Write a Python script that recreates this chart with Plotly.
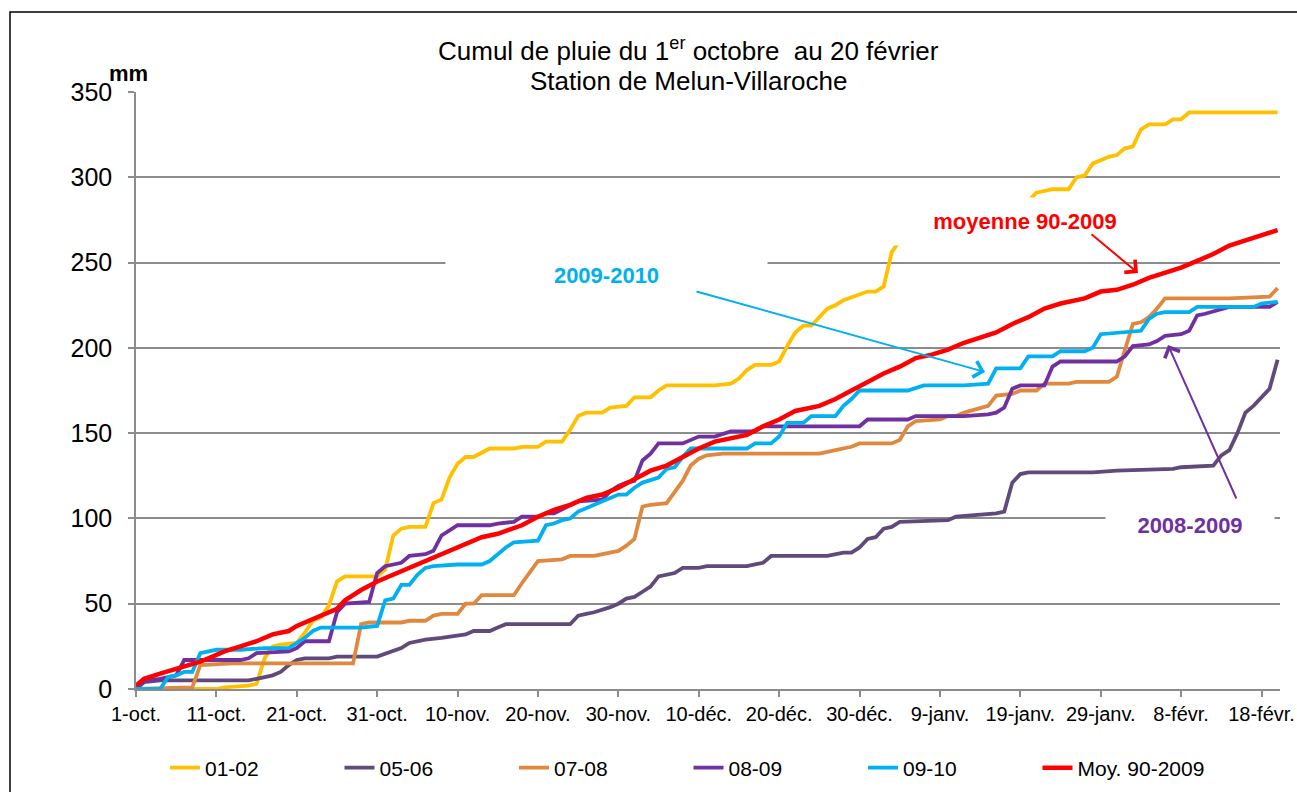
import plotly.graph_objects as go

# ---------------- data (day index from 1-oct) ----------------
tick_days = [0, 10, 20, 30, 40, 50, 60, 70, 80, 90, 100, 110, 120, 130, 140]
tick_labels = ["1-oct.", "11-oct.", "21-oct.", "31-oct.", "10-nov.", "20-nov.", "30-nov.",
               "10-déc.", "20-déc.", "30-déc.", "9-janv.", "19-janv.", "29-janv.", "8-févr.", "18-févr."]

d_0102 = [0, 10, 11, 14, 15, 16, 17, 18, 20, 21, 22, 23, 24, 25, 26, 30, 31, 32, 33, 34, 36, 37, 38, 39, 40, 41, 42, 44, 47, 48, 50, 51, 53, 54, 55, 56, 58, 59, 61, 62, 64, 65, 66, 72, 74, 75, 76, 77, 79, 80, 81, 82, 83, 84, 86, 87, 88, 90, 91, 92, 93, 94, 95, 100, 106, 111, 112, 114, 116, 117, 118, 119, 121, 122, 123, 124, 125, 126, 128, 129, 130, 131, 142]
v_0102 = [0, 0, 1, 2, 3, 18, 25, 26, 27, 33, 40, 42, 49, 63, 66, 66, 70, 90, 94, 95, 95, 109, 111, 124, 132, 136, 136, 141, 141, 142, 142, 145, 145, 152, 160, 162, 162, 165, 166, 171, 171, 175, 178, 178, 179, 182, 187, 190, 190, 192, 201, 209, 213, 213, 223, 225, 228, 231, 233, 233, 236, 256, 263, 268, 278, 286, 291, 293, 293, 300, 301, 308, 312, 313, 317, 318, 328, 331, 331, 334, 334, 338, 338]

d_0506 = [0, 1, 3, 14, 15, 17, 18, 19, 20, 21, 24, 25, 30, 32, 33, 34, 35, 36, 38, 40, 41, 42, 44, 45, 46, 54, 55, 56, 57, 59, 60, 61, 62, 63, 64, 65, 66, 67, 68, 70, 71, 76, 77, 78, 79, 86, 88, 89, 90, 91, 92, 93, 94, 95, 101, 102, 107, 108, 109, 110, 111, 119, 122, 129, 130, 134, 135, 136, 137, 138, 139, 140, 141, 142]
v_0506 = [0, 4, 5, 5, 6, 8, 10, 14, 17, 18, 18, 19, 19, 22, 24, 27, 28, 29, 30, 31, 32, 34, 34, 36, 38, 38, 43, 44, 45, 48, 50, 53, 54, 57, 60, 66, 67, 68, 71, 71, 72, 72, 73, 74, 78, 78, 80, 80, 83, 88, 89, 94, 95, 98, 99, 101, 103, 104, 121, 126, 127, 127, 128, 129, 130, 131, 137, 140, 150, 162, 166, 171, 176, 193]

d_0708 = [0, 7, 8, 12, 16, 27, 28, 29, 33, 34, 36, 37, 38, 40, 41, 42, 43, 47, 48, 49, 50, 53, 54, 57, 58, 60, 61, 62, 63, 64, 66, 67, 68, 69, 70, 71, 73, 80, 85, 87, 89, 90, 94, 95, 96, 97, 100, 101, 102, 103, 105, 106, 107, 109, 110, 112, 113, 116, 117, 121, 122, 123, 124, 125, 126, 127, 128, 136, 141, 142]
v_0708 = [0, 1, 14, 15, 15, 15, 38, 39, 39, 40, 40, 43, 44, 44, 50, 50, 55, 55, 62, 69, 75, 76, 78, 78, 79, 81, 84, 88, 107, 108, 109, 116, 122, 131, 135, 137, 138, 138, 138, 140, 142, 144, 144, 146, 154, 157, 158, 160, 160, 162, 165, 166, 172, 173, 175, 175, 179, 179, 180, 180, 183, 198, 214, 215, 218, 223, 229, 229, 230, 235]

d_0809 = [0, 1, 3, 5, 6, 13, 14, 15, 19, 20, 21, 24, 25, 26, 29, 30, 31, 33, 34, 36, 37, 38, 39, 40, 44, 45, 47, 48, 50, 51, 52, 54, 55, 58, 59, 60, 61, 62, 63, 64, 65, 68, 69, 70, 72, 74, 77, 78, 90, 91, 96, 97, 103, 106, 107, 108, 109, 110, 113, 114, 115, 122, 123, 124, 126, 127, 128, 130, 131, 132, 133, 135, 136, 141, 142]
v_0809 = [0, 5, 6, 8, 17, 17, 18, 21, 22, 24, 28, 28, 45, 50, 51, 68, 72, 74, 78, 79, 81, 90, 93, 96, 96, 97, 98, 101, 101, 103, 103, 108, 110, 111, 116, 119, 121, 122, 134, 138, 144, 144, 146, 148, 148, 151, 151, 154, 154, 158, 158, 160, 160, 161, 162, 165, 176, 178, 178, 189, 192, 192, 195, 201, 202, 204, 207, 208, 210, 219, 220, 223, 224, 224, 227]

d_0910 = [0, 3, 4, 5, 6, 7, 8, 10, 13, 16, 19, 21, 22, 23, 28, 30, 31, 32, 33, 34, 35, 36, 37, 40, 43, 44, 46, 47, 50, 51, 52, 53, 54, 55, 57, 59, 60, 61, 62, 63, 65, 66, 67, 68, 69, 76, 77, 79, 80, 81, 83, 84, 87, 88, 89, 90, 96, 98, 103, 106, 107, 110, 111, 114, 115, 118, 119, 120, 125, 126, 127, 128, 131, 132, 139, 140, 142]
v_0910 = [0, 0, 7, 8, 10, 10, 21, 23, 23, 24, 24, 30, 34, 36, 36, 37, 52, 53, 61, 61, 67, 71, 72, 73, 73, 75, 83, 86, 87, 96, 97, 99, 100, 104, 108, 112, 114, 114, 118, 121, 124, 129, 130, 136, 141, 141, 144, 144, 148, 156, 156, 160, 160, 166, 170, 175, 175, 178, 178, 179, 188, 188, 195, 195, 198, 198, 200, 208, 210, 217, 220, 221, 221, 224, 224, 226, 227]

d_moy = [0, 1, 3, 5, 8, 10, 11, 13, 15, 17, 19, 20, 23, 25, 26, 28, 30, 33, 35, 37, 39, 41, 43, 45, 48, 50, 52, 54, 56, 58, 60, 62, 64, 66, 68, 70, 72, 74, 76, 78, 80, 82, 85, 87, 89, 91, 93, 95, 97, 99, 101, 103, 105, 107, 109, 111, 113, 115, 118, 120, 122, 124, 126, 128, 130, 132, 134, 136, 138, 140, 142]
v_moy = [2, 6, 9, 12, 16, 20, 22, 25, 28, 32, 34, 37, 43, 47, 52, 58, 63, 69, 73, 77, 81, 85, 89, 91, 96, 101, 105, 108, 112, 114, 118, 123, 128, 131, 136, 141, 145, 147, 149, 154, 158, 163, 166, 170, 175, 180, 185, 189, 194, 196, 199, 203, 206, 209, 214, 218, 223, 226, 229, 233, 234, 237, 241, 244, 247, 251, 255, 260, 263, 266, 269]

series = [
    ("01-02", d_0102, v_0102, "#FFC000", 3.8),
    ("05-06", d_0506, v_0506, "#604A7B", 3.8),
    ("07-08", d_0708, v_0708, "#E0883E", 3.8),
    ("08-09", d_0809, v_0809, "#7030A0", 3.8),
    ("09-10", d_0910, v_0910, "#00B0F0", 3.8),
    ("Moy. 90-2009", d_moy, v_moy, "#FF0000", 4.5),
]

FONT = "Liberation Sans, Arial, sans-serif"
GRID = "#8C8C8C"

fig = go.Figure()
for name, d, v, col, w in series:
    fig.add_trace(go.Scatter(x=d, y=v, mode="lines", name=name,
                             line=dict(color=col, width=w)))

# plot area in pixels: x 136..1280, y 92..689
PL, PR, PT, PB = 136, 1280, 92, 689
XMAX = 142.3

def px_x(p):
    return (p - PL) / (PR - PL) * XMAX

def px_y(p):
    return (PB - p) / (PB - PT) * 350

def pap_x(p):
    return (p - PL) / (PR - PL)

def pap_y(p):
    return (PB - p) / (PB - PT)

annotations = []
# white label boxes (cover the lines / gridlines like the original text boxes)
annotations.append(dict(x=px_x(606), y=px_y(275), xref="x", yref="y", text="<b>2009-2010</b>",
                        showarrow=False, bgcolor="white", width=319, height=50,
                        xanchor="center", yanchor="middle",
                        font=dict(family=FONT, size=22, color="#00B0F0")))
annotations.append(dict(x=px_x(1025), y=px_y(221.5), xref="x", yref="y", text="<b>moyenne 90-2009</b>",
                        showarrow=False, bgcolor="white", width=264, height=45,
                        xanchor="center", yanchor="middle",
                        font=dict(family=FONT, size=22, color="#FF0000")))
annotations.append(dict(x=px_x(1190), y=px_y(525), xref="x", yref="y", text="<b>2008-2009</b>",
                        showarrow=False, bgcolor="white", width=166, height=46,
                        xanchor="center", yanchor="middle",
                        font=dict(family=FONT, size=22, color="#7030A0")))
# arrows
for (tx, ty, hx, hy, col) in [(695, 291, 985, 372, "#00B0F0"),
                              (1090, 233, 1138, 273, "#FF0000"),
                              (1237, 500, 1168, 345, "#7030A0")]:
    annotations.append(dict(x=px_x(hx), y=px_y(hy), ax=px_x(tx), ay=px_y(ty),
                            xref="x", yref="y", axref="x", ayref="y", text="",
                            showarrow=True, arrowhead=4, arrowsize=1.6, arrowwidth=2,
                            arrowcolor=col, standoff=0))
# titles
annotations.append(dict(x=pap_x(688), y=pap_y(50), xref="paper", yref="paper",
                        xanchor="center", yanchor="middle",
                        text="Cumul de pluie du 1<sup>er</sup> octobre  au 20 février",
                        showarrow=False, font=dict(family=FONT, size=26, color="black")))
annotations.append(dict(x=pap_x(688), y=pap_y(81), xref="paper", yref="paper",
                        xanchor="center", yanchor="middle",
                        text="Station de Melun-Villaroche",
                        showarrow=False, font=dict(family=FONT, size=26, color="black")))
annotations.append(dict(x=pap_x(128), y=pap_y(73), xref="paper", yref="paper",
                        xanchor="center", yanchor="middle",
                        text="<b>mm</b>", showarrow=False,
                        font=dict(family=FONT, size=22, color="black")))

fig.update_layout(
    width=1297, height=792,
    margin=dict(l=PL, r=1297 - PR, t=PT, b=792 - PB, autoexpand=False),
    paper_bgcolor="white", plot_bgcolor="white",
    font=dict(family=FONT, color="black"),
    showlegend=True,
    legend=dict(orientation="h", x=pap_x(165), xanchor="left", y=pap_y(768), yanchor="middle",
                font=dict(family=FONT, size=21, color="black"),
                entrywidth=129.5, entrywidthmode="pixels", itemwidth=30,
                bgcolor="rgba(0,0,0,0)"),
    xaxis=dict(range=[0, XMAX], tickmode="array", tickvals=tick_days, ticktext=tick_labels,
               showgrid=False, zeroline=False, showline=True, linecolor=GRID, linewidth=1.5,
               ticks="outside", ticklen=6, tickcolor=GRID, tickwidth=1.5,
               tickfont=dict(family=FONT, size=20, color="black"), fixedrange=True),
    yaxis=dict(range=[0, 350], dtick=50, tick0=0, showgrid=True, gridcolor=GRID, gridwidth=1.5,
               zeroline=False, showline=True, linecolor=GRID, linewidth=1.5,
               ticks="outside", ticklen=6, tickcolor=GRID, tickwidth=1.5,
               ticklabelstandoff=11,
               tickfont=dict(family=FONT, size=25, color="black"), fixedrange=True),
    annotations=annotations,
    shapes=[dict(type="rect", xref="paper", yref="paper",
                 x0=pap_x(10), x1=pap_x(1305), y0=pap_y(805), y1=pap_y(12),
                 line=dict(color="black", width=1.5), fillcolor="rgba(0,0,0,0)", layer="below")],
)

fig.write_html("out.html", config={"displayModeBar": False},
               post_script="document.body.style.margin='0';")
